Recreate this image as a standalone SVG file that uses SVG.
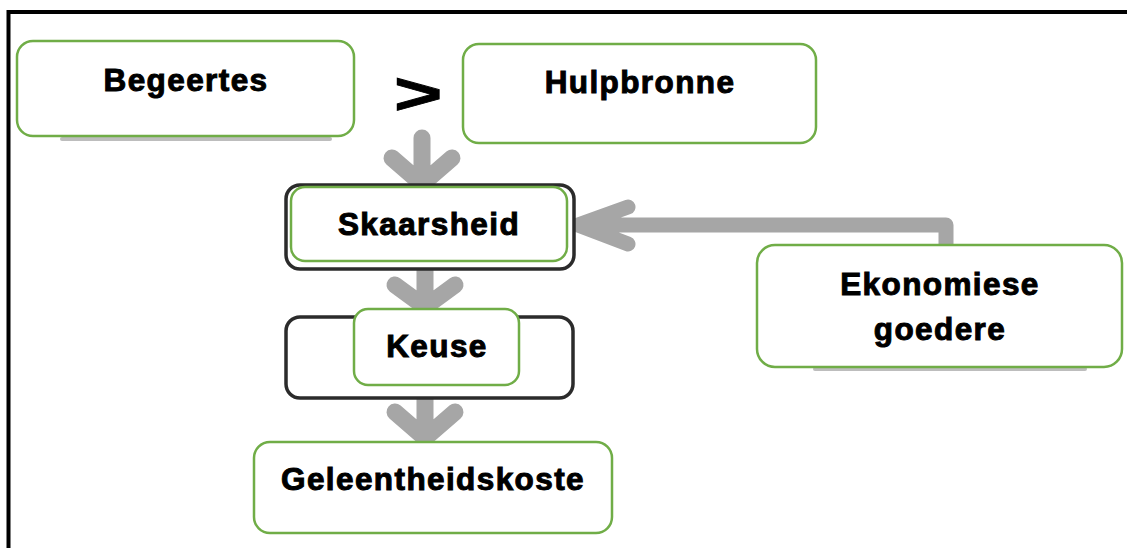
<svg xmlns="http://www.w3.org/2000/svg" width="1127" height="548" viewBox="0 0 1127 548">
<style>
.box{fill:#ffffff;stroke:#70ad47;stroke-width:2.5}
.back{fill:#ffffff;stroke:#2b2b2b;stroke-width:3.5}
.lbl{font-family:"Liberation Sans",Arial,sans-serif;font-weight:bold;font-size:31.5px;letter-spacing:1.4px;fill:#000;stroke:#000;stroke-width:1;text-anchor:middle}
.arr{fill:none;stroke:#a6a6a6;stroke-linecap:round;stroke-linejoin:round}
.shadow{fill:none;stroke:#bdbdbd;stroke-width:4;stroke-linecap:round}
</style>
<rect x="0" y="0" width="1127" height="548" fill="#ffffff"/>
<path d="M8.5,548 V12 H1127" fill="none" stroke="#000" stroke-width="4"/>
<g id="connectors">
<path class="arr" stroke-width="17" d="M422,138 V182 M392,158 L422,184 L452,158"/>
<path class="arr" stroke-width="17" d="M425,268 V306 M395,285 L425,307 L455,285"/>
<path class="arr" stroke-width="17" d="M425,398 V438 M395,412 L425,438 L455,412"/>
<path class="arr" stroke-width="15" d="M946,244 V225 H578 M628,207 L578,225 L628,244"/>
</g>
<path class="shadow" d="M62,139 H330"/>
<path class="shadow" d="M815,369 H1085"/>
<rect class="back" x="286" y="185" width="288" height="84" rx="14"/>
<rect class="back" x="286" y="317" width="287" height="81" rx="14"/>
<g id="gt">
<text class="lbl" x="419" y="114" transform="translate(-160,0) scale(1.38,1)" style="font-size:60px;letter-spacing:0">&gt;</text>
</g>
<g id="begeertes">
<rect class="box" x="17" y="41" width="337" height="95" rx="16"/>
<text class="lbl" x="186" y="91">Begeertes</text>
</g>
<g id="hulpbronne">
<rect class="box" x="463" y="44" width="353" height="99" rx="16"/>
<text class="lbl" x="640" y="93">Hulpbronne</text>
</g>
<g id="skaarsheid">
<rect class="box" x="291" y="187" width="276" height="74" rx="14"/>
<text class="lbl" x="429" y="235">Skaarsheid</text>
</g>
<g id="keuse">
<rect class="box" x="354" y="309" width="165" height="76" rx="14"/>
<text class="lbl" x="437" y="357">Keuse</text>
</g>
<g id="geleentheidskoste">
<rect class="box" x="254" y="442" width="358" height="91" rx="16"/>
<text class="lbl" x="433" y="490">Geleentheidskoste</text>
</g>
<g id="ekonomiese">
<rect class="box" x="757" y="245" width="365" height="122" rx="18"/>
<text class="lbl" x="940" y="295">Ekonomiese</text>
<text class="lbl" x="940" y="340">goedere</text>
</g>
</svg>
